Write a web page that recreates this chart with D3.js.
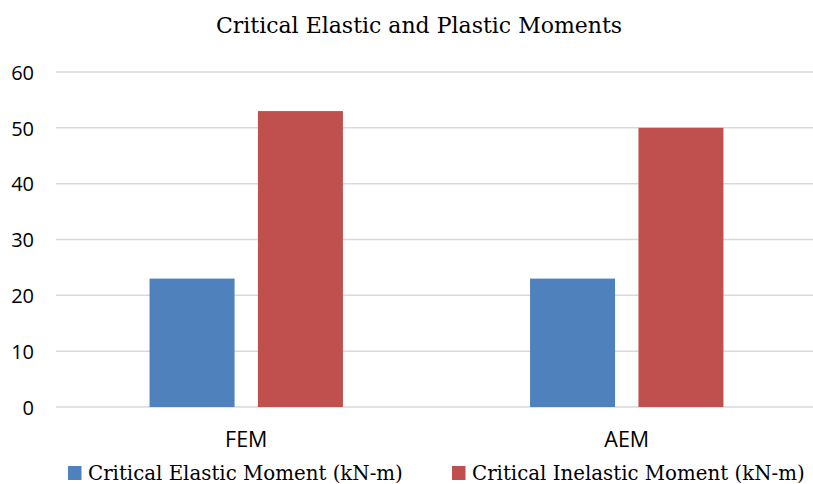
<!DOCTYPE html>
<html>
<head>
<meta charset="utf-8">
<script src="https://cdn.jsdelivr.net/npm/d3@7"></script>
<style>
  html, body { margin: 0; padding: 0; background: #fff; }
  svg { display: block; }
</style>
</head>
<body>
<svg id="chart" width="813" height="484"></svg>
<script>
// Chart data
const categories = ["FEM", "AEM"];
const seriesNames = ["Critical Elastic Moment (kN-m)", "Critical Inelastic Moment (kN-m)"];
const elasticValues = [23, 23];
const inelasticValues = [53, 50];
const yTicks = [0, 10, 20, 30, 40, 50, 60];
const seriesColors = ["#4f81bd", "#c0504d"];

const serifFont = "'DejaVu Serif', serif";
const sansFont = "'Open Sans', 'Noto Sans', sans-serif";

const svg = d3.select("#chart");

// Plot area (the category band runs slightly past the right edge of the canvas)
const plotLeft = 56, plotRight = 817, plotTop = 72, plotBottom = 407;

const x = d3.scaleBand().domain(categories).range([plotLeft, plotRight]);
const groupWidth = 193.4, barWidth = 85;
const xInner = d3.scaleBand().domain(seriesNames).range([0, groupWidth])
  .paddingInner((groupWidth - 2 * barWidth) / (groupWidth - barWidth));
const y = d3.scaleLinear().domain([0, 60]).range([plotBottom, plotTop]);

// Title
svg.append("text")
  .attr("x", 419).attr("y", 33)
  .attr("text-anchor", "middle")
  .style("font-family", serifFont)
  .style("font-size", "22px")
  .attr("fill", "#000")
  .text("Critical Elastic and Plastic Moments");

// Horizontal gridlines
svg.append("g")
  .selectAll("line")
  .data(yTicks)
  .join("line")
  .attr("x1", plotLeft).attr("x2", plotRight)
  .attr("y1", d => y(d)).attr("y2", d => y(d))
  .attr("stroke", "#d9d9d9").attr("stroke-width", 1.5);

// Value axis labels
const yAxis = d3.axisLeft(y).tickValues(yTicks).tickSize(0).tickPadding(0);
const gy = svg.append("g").attr("transform", "translate(34,0)").call(yAxis);
gy.select(".domain").remove();
gy.selectAll("text")
  .style("font-family", sansFont)
  .style("font-size", "20px")
  .attr("dy", "0.36em")
  .attr("fill", "#000");

// Clustered bars
const rows = categories.map((c, i) => ({ cat: c, vals: [elasticValues[i], inelasticValues[i]] }));
const groupOffset = (x.bandwidth() - groupWidth) / 2;
const groups = svg.append("g").selectAll("g")
  .data(rows).join("g")
  .attr("transform", d => `translate(${x(d.cat) + groupOffset},0)`);
groups.selectAll("rect")
  .data(d => d.vals.map((v, k) => ({ name: seriesNames[k], v, k })))
  .join("rect")
  .attr("x", d => xInner(d.name))
  .attr("width", xInner.bandwidth())
  .attr("y", d => y(d.v))
  .attr("height", d => y(0) - y(d.v))
  .attr("fill", d => seriesColors[d.k]);

// Category labels
const xAxis = d3.axisBottom(x).tickSize(0).tickPadding(0);
const gx = svg.append("g").attr("transform", "translate(0,447)").call(xAxis);
gx.select(".domain").remove();
gx.selectAll("text")
  .attr("dy", 0)
  .style("font-family", sansFont)
  .style("font-size", "21.5px")
  .attr("fill", "#000");

// Legend
const legendX = [68, 452];
const legend = svg.append("g").selectAll("g")
  .data(seriesNames).join("g")
  .attr("transform", (d, i) => `translate(${legendX[i]},466)`);
legend.append("rect")
  .attr("width", 13.5).attr("height", 14)
  .attr("fill", (d, i) => seriesColors[i]);
legend.append("text")
  .attr("x", 20).attr("y", 13.5)
  .style("font-family", serifFont)
  .style("font-size", "19.8px")
  .attr("fill", "#000")
  .text(d => d);
</script>
</body>
</html>
